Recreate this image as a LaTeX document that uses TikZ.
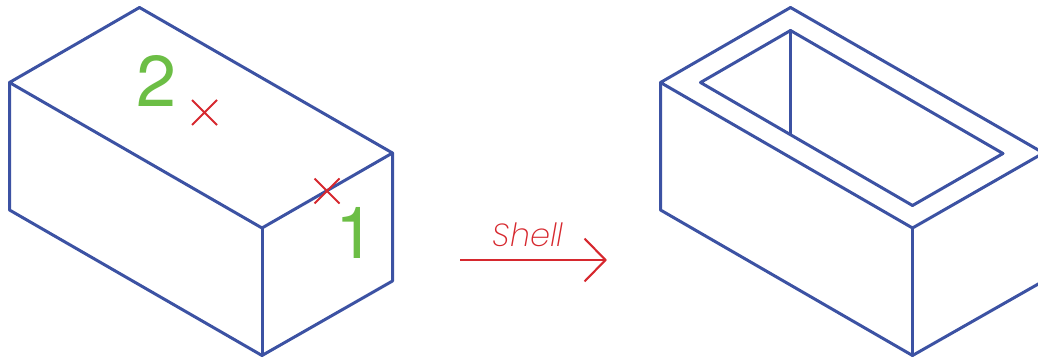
\documentclass[tikz,border=0pt]{standalone}
\usepackage{fontspec}
\setmainfont{TeX Gyre Heros}
\newfontfamily\thinfont{Poppins ExtraLight}
\definecolor{boxblue}{RGB}{60,82,163}
\definecolor{markred}{RGB}{214,40,46}
\definecolor{numgreen}{RGB}{108,190,69}
\tikzset{
  edge line/.style={draw=boxblue,line width=3pt,line join=round,line cap=round},
  mark line/.style={draw=markred,line width=2.1pt},
  num label/.style={text=numgreen,font=\fontsize{72}{72}\selectfont,inner sep=0pt,anchor=base},
}
\begin{document}
\begin{tikzpicture}[x=1pt,y=-1pt]
\useasboundingbox (0,0) rectangle (1038,358);
\clip (0,0) rectangle (1038,358);
% left solid
\draw[edge line] (9.5,82.5) -- (139.5,7.5) -- (392.5,153) -- (262,228) -- cycle;
\draw[edge line] (9.5,82.5) -- (9.5,210) -- (262,355.5) -- (392.5,281) -- (392.5,153);
\draw[edge line] (262,228) -- (262,355.5);
% right shell
\draw[edge line] (660.5,82.5) -- (790.5,7.5) -- (1043.5,153) -- (912.5,228) -- cycle;
\draw[edge line] (660.5,82.5) -- (660.5,210) -- (912.5,355.5) -- (1043.5,281);
\draw[edge line] (912.5,228) -- (912.5,355.5);
\draw[edge line] (700.5,82.5) -- (790.5,30.5) -- (1003,153.5) -- (912.5,205.5) -- cycle;
\draw[edge line] (790.5,30.5) -- (790.5,134.5);
% crosses
\draw[mark line] (192,100) -- (217,125) (217,100) -- (192,125);
\draw[mark line] (314.5,178.5) -- (339.5,203.5) (339.5,178.5) -- (314.5,203.5);
% numbers
\node[num label] (two) at (156.5,107) {2};
\node[num label] (one) at (356,258) {1};
% arrow
\draw[mark line,line join=miter] (460,260) -- (605,260);
\draw[mark line,line join=miter] (584.5,238.5) -- (605.5,260) -- (584.5,281.5);
\node[text=markred,font=\thinfont\itshape\fontsize{32}{32}\selectfont,inner sep=0pt,anchor=base] (shell) at (528,246) {Shell};
\end{tikzpicture}
\end{document}
